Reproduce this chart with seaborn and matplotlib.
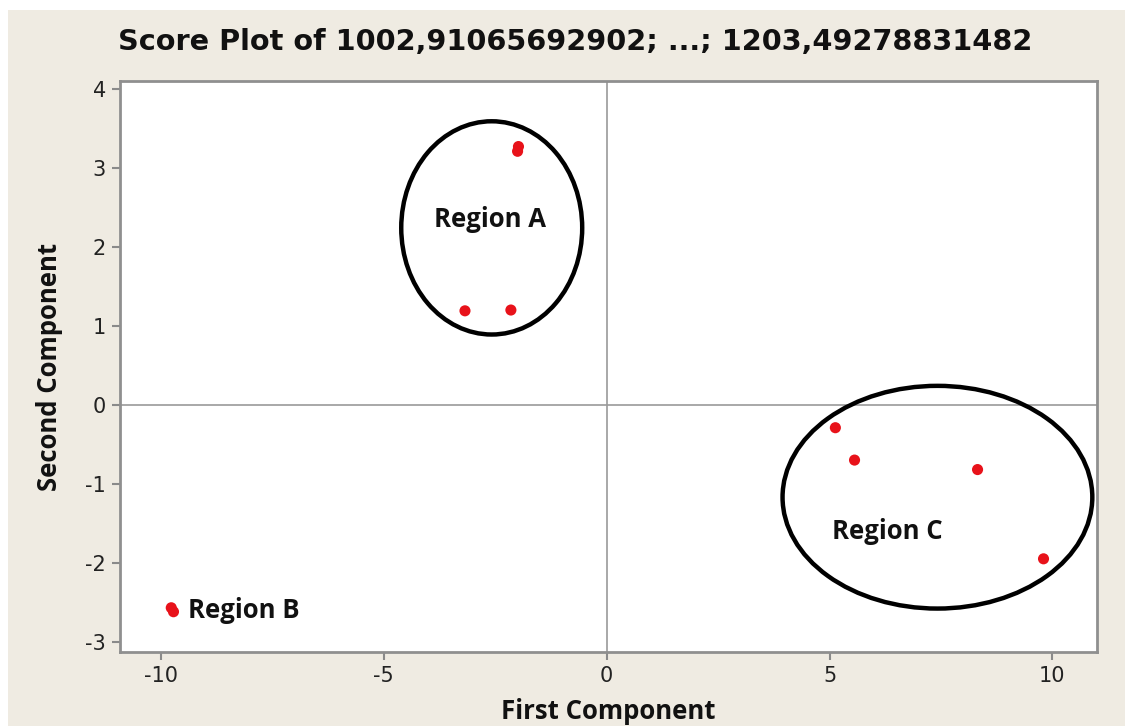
import matplotlib
matplotlib.use("Agg")
import matplotlib.pyplot as plt
from matplotlib.patches import Ellipse, Rectangle
import pandas as pd
import seaborn as sns

# Principal component scores
first_component = [-1.98, -2.00, -3.18, -2.15, -9.77, -9.72, 5.13, 5.56, 8.32, 9.80]
second_component = [3.27, 3.21, 1.19, 1.20, -2.57, -2.62, -0.29, -0.70, -0.82, -1.95]

# Highlighted groups: centre (x, y), width, height
region_names = ["Region A", "Region C"]
region_centers = [(-2.58, 2.24), (7.42, -1.17)]
region_widths = [4.06, 6.95]
region_heights = [2.70, 2.82]

# Group labels and where they sit
label_texts = ["Region A", "Region B", "Region C"]
label_positions = [(-2.62, 2.35), (-9.40, -2.60), (6.30, -1.60)]
label_align = ["center", "left", "center"]

x_ticks = [-10, -5, 0, 5, 10]
y_ticks = [-3, -2, -1, 0, 1, 2, 3, 4]

title = "Score Plot of 1002,91065692902; ...; 1203,49278831482"

sns.set_theme(style="white")
plt.rcParams["font.family"] = ["DejaVu Sans"]

bg = "#efebe2"
fig = plt.figure(figsize=(11.25, 7.26), dpi=100, facecolor="white")
# beige panel with a thin white margin at the top and left
fig.patches.append(Rectangle((8 / 1125, 0), 1, 1 - 10 / 726, transform=fig.transFigure,
                             facecolor=bg, edgecolor="none", zorder=-10))
ax = fig.add_axes([120 / 1125, 1 - 652 / 726, (1097 - 120) / 1125, (652 - 81) / 726])
ax.set_facecolor("white")

df = pd.DataFrame({"First Component": first_component, "Second Component": second_component})

ax.axhline(0, color="#9a9a9a", lw=1.2, zorder=1)
ax.axvline(0, color="#9a9a9a", lw=1.2, zorder=1)

sns.scatterplot(data=df, x="First Component", y="Second Component", ax=ax,
                color="#e8121a", s=64, edgecolor="none", zorder=3)

for (cx, cy), w, h in zip(region_centers, region_widths, region_heights):
    ax.add_patch(Ellipse((cx, cy), w, h, fill=False, edgecolor="black", lw=3.2, zorder=2))

for txt, (tx, ty), ha in zip(label_texts, label_positions, label_align):
    ax.text(tx, ty, txt, ha=ha, va="center", fontsize=18.5, fontweight="bold",
            family="Open Sans", color="#111111", zorder=4)

ax.set_xlim(-10.92, 11.0)
ax.set_ylim(-3.13, 4.10)
ax.set_xticks(x_ticks)
ax.set_yticks(y_ticks)
ax.set_xticklabels([str(t) for t in x_ticks])
ax.set_yticklabels([str(t) for t in y_ticks])
ax.tick_params(axis="both", which="major", direction="out", length=6, width=1.5,
               color="#8a8a8a", labelsize=15, labelcolor="#222222", pad=4,
               bottom=True, left=True)

for side, sp in ax.spines.items():
    sp.set_color("#8f8f8f")
    sp.set_linewidth(2)

ax.set_xlabel("First Component", fontsize=18.5, fontweight="bold", family="Open Sans",
              color="#111111", labelpad=9)
ax.set_ylabel("Second Component", fontsize=18.5, fontweight="bold", family="Open Sans",
              color="#111111", labelpad=16)

fig.text(575 / 1125, 1 - 42 / 726, title, ha="center", va="center",
         fontsize=20.7, fontweight="bold", color="#111111")

fig.savefig("out.png", dpi=100, facecolor=fig.get_facecolor())
